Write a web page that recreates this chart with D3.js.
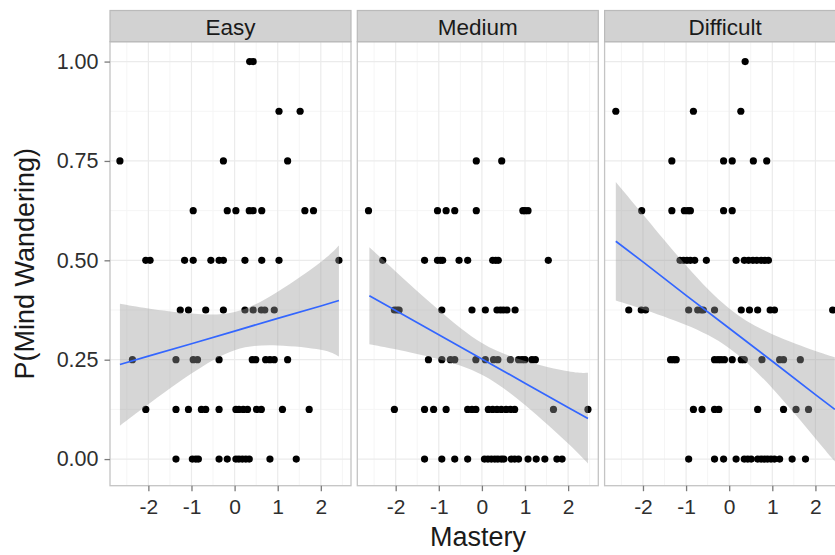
<!DOCTYPE html>
<html><head><meta charset="utf-8">
<script src="https://cdn.jsdelivr.net/npm/d3@7"></script>
<style>body{margin:0;background:#fff} text{font-family:"Liberation Sans",Arial,Helvetica,sans-serif}</style>
</head><body><svg id="c" width="835" height="555"></svg>
<script>
// ---------- data ----------
const facets = ["Easy", "Medium", "Difficult"];
const levels = [1, 0.875, 0.75, 0.625, 0.5, 0.375, 0.25, 0.125, 0];

// Mastery values of the points at each P(Mind Wandering) level (same order as `levels`)
const easyMastery = [
  [0.35, 0.43],
  [1.03, 1.52],
  [-2.66, -0.26, 1.23],
  [-0.96, -0.17, 0.03, 0.34, 0.43, 0.63, 1.63, 1.83],
  [-2.06, -1.96, -1.16, -0.96, -0.55, -0.36, -0.26, 0.24, 0.63, 1.03, 2.42],
  [-1.26, -1.07, -0.67, -0.26, 0.24, 0.43, 0.62, 0.70, 0.92],
  [-2.37, -1.36, -0.96, -0.86, -0.36, 0.41, 0.49, 0.72, 0.82, 0.92, 1.23],
  [-2.06, -1.36, -1.07, -0.77, -0.67, -0.36, 0.03, 0.10, 0.20, 0.30, 0.51, 0.62, 1.11, 1.73],
  [-1.36, -0.98, -0.90, -0.84, -0.36, -0.17, 0.03, 0.10, 0.18, 0.26, 0.34, 0.82, 1.43]
];
const mediumMastery = [
  [],
  [],
  [-0.13, 0.46],
  [-2.63, -1.03, -0.83, -0.63, -0.13, 0.95, 1.00, 1.07],
  [-2.30, -1.33, -1.03, -0.96, -0.91, -0.53, -0.33, 0.25, 0.32, 0.38, 1.54],
  [-2.03, -1.97, -1.92, -0.93, -0.23, 0.08, 0.35, 0.43, 0.50, 0.58, 0.77],
  [-1.24, -0.93, -0.73, -0.63, -0.14, 0.08, 0.27, 0.37, 0.66, 0.85, 0.93, 1.00, 1.16, 1.24],
  [-2.03, -1.33, -1.12, -0.83, -0.33, -0.23, -0.14, 0.15, 0.25, 0.35, 0.45, 0.56, 0.66, 0.76, 1.66, 2.46],
  [-1.33, -0.93, -0.63, -0.33, 0.06, 0.14, 0.22, 0.30, 0.37, 0.45, 0.51, 0.68, 0.76, 0.85, 1.07, 1.26, 1.46, 1.74, 1.86]
];
const difficultMastery = [
  [0.37],
  [-2.63, -0.83, 0.27],
  [-1.33, -0.13, 0.07, 0.56, 0.87],
  [-2.03, -1.33, -1.04, -0.96, -0.90, -0.13, 0.07],
  [-1.14, -1.06, -0.98, -0.90, -0.80, -0.53, 0.16, 0.35, 0.45, 0.55, 0.64, 0.74, 0.83, 0.91],
  [-2.33, -2.04, -1.94, -0.94, -0.73, -0.65, -0.60, -0.34, 0.28, 0.47, 0.66, 0.95, 1.05, 2.40],
  [-1.36, -1.29, -1.23, -0.34, -0.26, -0.19, -0.11, 0.07, 0.28, 0.35, 0.76, 1.17, 1.26, 1.65],
  [-0.83, -0.63, -0.34, -0.24, 0.66, 1.26, 1.55, 1.84],
  [-0.94, -0.34, -0.13, 0.16, 0.35, 0.43, 0.51, 0.66, 0.74, 0.82, 0.89, 0.97, 1.05, 1.17, 1.46, 1.77]
];

// linear fit with 95% band, read at a few mastery values
const easyFitX = [-2.66, -2, -1, 0, 1, 2, 2.42];
const easyFit = [0.238, 0.259, 0.290, 0.322, 0.354, 0.385, 0.399];
const easyUpper = [0.391, 0.379, 0.366, 0.370, 0.421, 0.496, 0.537];
const easyLower = [0.084, 0.138, 0.215, 0.274, 0.286, 0.275, 0.258];

const mediumFitX = [-2.61, -2, -1, 0, 1, 2, 2.46];
const mediumFit = [0.411, 0.374, 0.313, 0.252, 0.191, 0.130, 0.102];
const mediumUpper = [0.533, 0.472, 0.375, 0.292, 0.247, 0.221, 0.217];
const mediumLower = [0.289, 0.276, 0.251, 0.212, 0.136, 0.039, -0.011];

const difficultFitX = [-2.63, -2, -1, 0, 1, 2, 2.45];
const difficultFit = [0.548, 0.496, 0.412, 0.329, 0.246, 0.162, 0.125];
const difficultUpper = [0.697, 0.615, 0.487, 0.379, 0.314, 0.272, 0.256];
const difficultLower = [0.399, 0.377, 0.337, 0.279, 0.178, 0.052, -0.006];

const xTicks = [-2, -1, 0, 1, 2];
const xTickLabels = ["-2", "-1", "0", "1", "2"];
const xMinor = [-2.5, -1.5, -0.5, 0.5, 1.5, 2.5];
const yTicks = [0, 0.25, 0.5, 0.75, 1];
const yTickLabels = ["0.00", "0.25", "0.50", "0.75", "1.00"];
const yMinor = [0.125, 0.375, 0.625, 0.875];
const xTitle = "Mastery";
const yTitle = "P(Mind Wandering)";

// ---------- build ----------
const panelsData = [
  {name: facets[0], mastery: easyMastery, fx: easyFitX, fit: easyFit, up: easyUpper, lo: easyLower},
  {name: facets[1], mastery: mediumMastery, fx: mediumFitX, fit: mediumFit, up: mediumUpper, lo: mediumLower},
  {name: facets[2], mastery: difficultMastery, fx: difficultFitX, fit: difficultFit, up: difficultUpper, lo: difficultLower}
];

const svg = d3.select("#c");
const panelTop = 41.7, panelBottom = 485.7, panelW = 241;
const panelH = panelBottom - panelTop;
const panelLeft = [110, 357.3, 604.6];
const stripTop = 10.5;

const x = d3.scaleLinear().domain([-2.89, 2.70]).range([0, panelW]);
const y = d3.scaleLinear().domain([-0.067, 1.050]).range([panelH, 0]);

const defs = svg.append("defs");
defs.append("clipPath").attr("id", "pclip")
  .append("rect").attr("x", 0).attr("y", 0).attr("width", panelW).attr("height", panelH);

panelsData.forEach((p, i) => {
  const g = svg.append("g").attr("transform", `translate(${panelLeft[i]},${panelTop})`);
  g.append("rect").attr("width", panelW).attr("height", panelH).attr("fill", "#fff");

  const inner = g.append("g").attr("clip-path", "url(#pclip)");
  // minor grid
  inner.selectAll(".vmin").data(xMinor).join("line")
    .attr("x1", d => x(d)).attr("x2", d => x(d)).attr("y1", 0).attr("y2", panelH)
    .attr("stroke", "#f5f5f5").attr("stroke-width", 1);
  inner.selectAll(".hmin").data(yMinor).join("line")
    .attr("y1", d => y(d)).attr("y2", d => y(d)).attr("x1", 0).attr("x2", panelW)
    .attr("stroke", "#f5f5f5").attr("stroke-width", 1);
  // major grid
  inner.selectAll(".vmaj").data(xTicks).join("line")
    .attr("x1", d => x(d)).attr("x2", d => x(d)).attr("y1", 0).attr("y2", panelH)
    .attr("stroke", "#ebebeb").attr("stroke-width", 1.2);
  inner.selectAll(".hmaj").data(yTicks).join("line")
    .attr("y1", d => y(d)).attr("y2", d => y(d)).attr("x1", 0).attr("x2", panelW)
    .attr("stroke", "#ebebeb").attr("stroke-width", 1.2);

  // points
  const pts = [];
  p.mastery.forEach((arr, k) => arr.forEach(m => pts.push([m, levels[k]])));
  inner.selectAll("circle").data(pts).join("circle")
    .attr("cx", d => x(d[0])).attr("cy", d => y(d[1])).attr("r", 3.6).attr("fill", "#000");

  // confidence band
  const band = p.fx.map((v, k) => ({x: v, up: p.up[k], lo: p.lo[k], f: p.fit[k]}));
  inner.append("path").datum(band)
    .attr("d", d3.area().x(d => x(d.x)).y0(d => y(d.lo)).y1(d => y(d.up)).curve(d3.curveNatural))
    .attr("fill", "#999999").attr("fill-opacity", 0.4);
  inner.append("path").datum(band)
    .attr("d", d3.line().x(d => x(d.x)).y(d => y(d.f)))
    .attr("fill", "none").attr("stroke", "#3366FF").attr("stroke-width", 1.7);

  // border
  g.append("rect").attr("width", panelW).attr("height", panelH)
    .attr("fill", "none").attr("stroke", "#c4c4c4").attr("stroke-width", 1.3);

  // strip
  svg.append("rect").attr("x", panelLeft[i]).attr("y", stripTop)
    .attr("width", panelW).attr("height", panelTop - stripTop)
    .attr("fill", "#d2d2d2").attr("stroke", "#bababa").attr("stroke-width", 1.2);
  svg.append("text").attr("x", panelLeft[i] + panelW / 2).attr("y", 35)
    .attr("text-anchor", "middle").attr("font-size", 22.5).attr("fill", "#1a1a1a")
    .text(p.name);

  // x axis
  const xa = svg.append("g").attr("transform", `translate(${panelLeft[i]},${panelBottom})`)
    .call(d3.axisBottom(x).tickValues(xTicks).tickSize(5.5).tickPadding(8)
      .tickFormat((d, k) => xTickLabels[k]));
  xa.select(".domain").remove();
  xa.selectAll(".tick line").attr("stroke", "#7a7a7a").attr("stroke-width", 1.3);
  xa.selectAll(".tick text").attr("font-size", 21).attr("fill", "#2e2e2e")
    .style("font-family", '"Liberation Sans",Arial,sans-serif');
});

// y axis
const ya = svg.append("g").attr("transform", `translate(${panelLeft[0]},${panelTop})`)
  .call(d3.axisLeft(y).tickValues(yTicks).tickSize(5.5).tickPadding(6)
    .tickFormat((d, k) => yTickLabels[k]));
ya.select(".domain").remove();
ya.selectAll(".tick line").attr("stroke", "#7a7a7a").attr("stroke-width", 1.3);
ya.selectAll(".tick text").attr("font-size", 21.5).attr("fill", "#2e2e2e")
  .style("font-family", '"Liberation Sans",Arial,sans-serif');

// axis titles
svg.append("text").attr("x", 478).attr("y", 546).attr("text-anchor", "middle")
  .attr("font-size", 27).attr("fill", "#1a1a1a").text(xTitle);
svg.append("text").attr("transform", `translate(33.5,${(panelTop + panelBottom) / 2}) rotate(-90)`)
  .attr("text-anchor", "middle").attr("font-size", 27).attr("fill", "#1a1a1a").text(yTitle);
</script></body></html>
